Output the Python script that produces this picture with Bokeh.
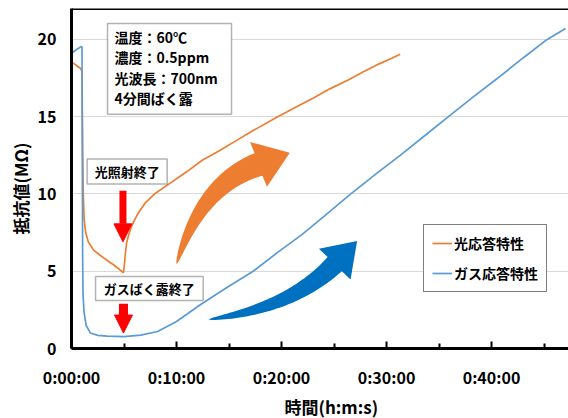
import numpy as np
from bokeh.plotting import figure
from bokeh.models import (FixedTicker, Range1d, Span, BoxAnnotation, Label,
                          Arrow, NormalHead, Title)
from bokeh.embed import file_html
from bokeh.resources import INLINE

# ---------------- data (time in minutes, resistance in MΩ) ----------------
light_t = [0.0, 0.3, 0.6, 0.9, 1.0, 1.03, 1.07, 1.12, 1.2, 1.35, 1.6, 2.1, 2.6,
           3.1, 3.6, 4.0, 4.5, 4.95, 5.05, 5.12, 5.25, 5.45, 5.65, 6.0, 6.3,
           7.0, 8.0, 9.4, 10.9, 12.45, 14.2, 15.8, 17.3, 19.6, 21.3, 23.0,
           24.6, 26.3, 27.8, 29.4, 30.4, 31.3]
light_r = [18.55, 18.4, 18.25, 18.1, 17.9, 15.5, 12.5, 10.0, 8.4, 7.5, 6.9,
           6.37, 6.1, 5.85, 5.6, 5.42, 5.15, 4.9, 5.5, 6.1, 6.85, 7.35, 7.8,
           8.3, 8.7, 9.4, 10.05, 10.7, 11.4, 12.18, 12.85, 13.5, 14.1, 14.98,
           15.6, 16.2, 16.8, 17.36, 17.9, 18.45, 18.75, 19.04]

gas_t = [0.0, 0.3, 0.6, 0.95, 1.0, 1.03, 1.06, 1.1, 1.2, 1.4, 1.8, 2.5, 3.4,
         5.0, 6.6, 8.2, 10.0, 12.3, 14.8, 17.3, 19.6, 22.0, 24.3, 26.6, 29.0,
         31.3, 33.6, 35.9, 38.2, 40.6, 43.0, 45.3, 47.05]
gas_r = [19.1, 19.25, 19.4, 19.55, 19.5, 12.0, 6.0, 3.5, 2.3, 1.5, 1.0, 0.85,
         0.8, 0.77, 0.87, 1.1, 1.75, 2.85, 3.95, 5.0, 6.2, 7.4, 8.7, 10.0,
         11.3, 12.5, 13.75, 15.0, 16.25, 17.5, 18.8, 20.0, 20.7]

series_names = ["光応答特性", "ガス応答特性"]
x_ticks = [0, 10, 20, 30, 40]
x_tick_labels = ["0:00:00", "0:10:00", "0:20:00", "0:30:00", "0:40:00"]
x_minor_ticks = [5, 15, 25, 35, 45]
y_ticks = [0, 5, 10, 15, 20]
condition_lines = ["温度：60℃", "濃度：0.5ppm", "光波長：700nm", "4分間ばく露"]
note_light = "光照射終了"
note_gas = "ガスばく露終了"
x_title = "時間(h:m:s)"
y_title = "抵抗値(MΩ)"

# ---------------- layout ----------------
FONT = "Noto Sans CJK JP"
W, H = 568, 418
BL, BR, BT, BB = 71, 0, 8, 69
X_MAX, Y_MAX = 47.33, 22.0
ORANGE, BLUE = "#ED7D31", "#5B9BD5"

p = figure(width=W, height=H, x_range=Range1d(0, X_MAX), y_range=Range1d(0, Y_MAX),
           output_backend="svg", toolbar_location=None,
           min_border_left=BL, min_border_right=BR, min_border_top=BT,
           min_border_bottom=BB)
p.outline_line_color = None
p.background_fill_color = "white"
p.border_fill_color = "white"

p.xgrid.grid_line_color = None
p.ygrid.grid_line_color = "#D9D9D9"
p.ygrid.grid_line_width = 1

for ax in (p.xaxis[0], p.yaxis[0]):
    ax.axis_line_color = "black"
    ax.axis_line_width = 3
    ax.major_label_text_font = FONT
    ax.major_label_text_font_style = "bold"
    ax.major_label_text_font_size = "16px"
    ax.major_label_text_color = "black"

p.xaxis.ticker = FixedTicker(ticks=x_ticks, minor_ticks=x_minor_ticks)
p.xaxis.major_label_overrides = {t: s for t, s in zip(x_ticks, x_tick_labels)}
p.xaxis.major_tick_in = 7
p.xaxis.major_tick_out = 0
p.xaxis.minor_tick_in = 5
p.xaxis.minor_tick_out = 0
p.xaxis.major_tick_line_width = 2
p.xaxis.minor_tick_line_width = 2
p.xaxis.major_tick_line_color = "black"
p.xaxis.minor_tick_line_color = "black"
p.xaxis.major_label_standoff = 16

p.yaxis.ticker = FixedTicker(ticks=y_ticks)
p.yaxis.major_tick_in = 0
p.yaxis.major_tick_out = 0
p.yaxis.minor_tick_in = 0
p.yaxis.minor_tick_out = 0
p.yaxis.major_tick_line_color = None
p.yaxis.minor_tick_line_color = None
p.yaxis.major_label_standoff = 15

p.add_layout(Span(location=Y_MAX, dimension="width", line_color="black", line_width=3))

# axis titles as border titles (reference places them off the cropped frame's centre)
p.add_layout(Title(text=x_title, align="left", offset=213, standoff=0,
                   text_font=FONT, text_font_style="bold", text_font_size="17px",
                   text_color="black"), "below")
p.add_layout(Title(text=y_title, align="left", offset=114, standoff=3,
                   text_font=FONT, text_font_style="bold", text_font_size="17px",
                   text_color="black"), "left")

# series
p.line(light_t, light_r, line_color=ORANGE, line_width=1.7, legend_label=series_names[0])
p.line(gas_t, gas_r, line_color=BLUE, line_width=1.7, legend_label=series_names[1])

# curved block arrows
KX = (W - BL - BR) / X_MAX
KY = (H - BT - BB) / Y_MAX


def curved_arrow(p0, p1, p2, tip, shaft_w, head_w, n=50):
    P0 = np.array([p0[0] * KX, p0[1] * KY])
    P1 = np.array([p1[0] * KX, p1[1] * KY])
    P2 = np.array([p2[0] * KX, p2[1] * KY])
    TP = np.array([tip[0] * KX, tip[1] * KY])
    s = np.linspace(0, 1, n)[:, None]
    B = (1 - s) ** 2 * P0 + 2 * (1 - s) * s * P1 + s ** 2 * P2
    dB = 2 * (1 - s) * (P1 - P0) + 2 * s * (P2 - P1)
    T = dB / np.linalg.norm(dB, axis=1)[:, None]
    N = np.column_stack([-T[:, 1], T[:, 0]])
    w = shaft_w * (s ** 0.6) / 2
    left = B + N * w
    right = B - N * w
    d = (TP - P2) / np.linalg.norm(TP - P2)
    n2 = np.array([-d[1], d[0]])
    c1 = P2 + n2 * head_w / 2
    c2 = P2 - n2 * head_w / 2
    pts = np.vstack([left, c1, TP, c2, right[::-1]])
    return list(pts[:, 0] / KX), list(pts[:, 1] / KY)


ox, oy = curved_arrow((10.0, 5.44), (12.29, 10.61), (17.81, 11.91), (20.79, 12.67), 24, 48)
p.patch(ox, oy, fill_color=ORANGE, line_color=None)
bx, by = curved_arrow((13.05, 1.88), (20.86, 2.59), (25.07, 5.46), (27.2, 6.95), 20, 44)
p.patch(bx, by, fill_color="#0070C0", line_color=None)

# condition text box
p.add_layout(BoxAnnotation(left=3.43, right=15.24, top=21.03, bottom=15.16,
                           fill_color="white", fill_alpha=1, line_color="black",
                           line_width=1.5, level="overlay"))
line_v = [20.13, 18.83, 17.53, 16.23]
for txt, v in zip(condition_lines, line_v):
    p.add_layout(Label(x=4.1, y=v, text=txt, text_font=FONT,
                       text_font_style="bold", text_font_size="14px", text_color="black",
                       text_align="left", text_baseline="middle", level="overlay"))

# note boxes
p.add_layout(BoxAnnotation(left=1.49, right=9.11, top=12.26, bottom=10.65,
                           fill_color="white", fill_alpha=1, line_color="black",
                           line_width=1.5, level="overlay"))
p.add_layout(Label(x=5.3, y=11.45, text=note_light, text_font=FONT,
                   text_font_style="bold", text_font_size="13px", text_color="black",
                   text_align="center", text_baseline="middle", level="overlay"))

p.add_layout(BoxAnnotation(left=2.29, right=12.54, top=4.66, bottom=3.1,
                           fill_color="white", fill_alpha=1, line_color="black",
                           line_width=1.5, level="overlay"))
p.add_layout(Label(x=7.41, y=3.88, text=note_gas, text_font=FONT,
                   text_font_style="bold", text_font_size="13px", text_color="black",
                   text_align="center", text_baseline="middle", level="overlay"))

# red arrows
p.add_layout(Arrow(end=NormalHead(size=18, fill_color="red", line_color="red"),
                   x_start=4.9, y_start=10.2, x_end=4.9, y_end=6.9,
                   line_color="red", line_width=7))
p.add_layout(Arrow(end=NormalHead(size=18, fill_color="red", line_color="red"),
                   x_start=4.95, y_start=2.9, x_end=4.95, y_end=1.0,
                   line_color="red", line_width=9))

# legend
lg = p.legend[0]
lg.location = (352, 56)
lg.border_line_color = "black"
lg.border_line_width = 1.5
lg.background_fill_color = "white"
lg.background_fill_alpha = 1
lg.padding = 8
lg.spacing = 10
lg.margin = 0
lg.glyph_width = 20
lg.glyph_height = 20
lg.label_height = 20
lg.label_standoff = 2
lg.label_text_font = FONT
lg.label_text_font_style = "bold"
lg.label_text_font_size = "14px"
lg.label_text_color = "black"

open("out.html", "w").write(file_html(p, INLINE))
